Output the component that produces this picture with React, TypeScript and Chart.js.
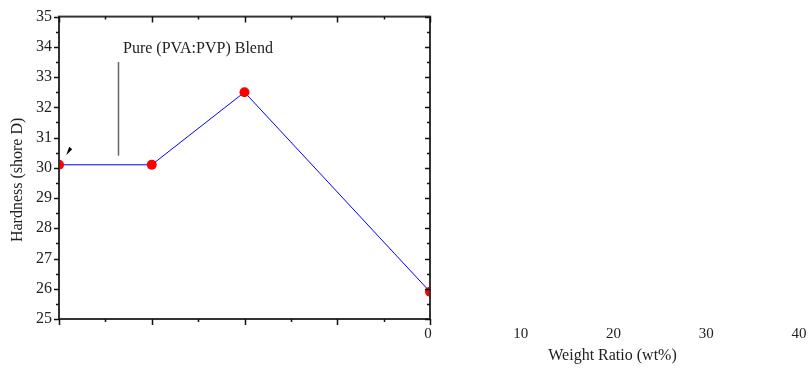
import React, { useEffect, useRef } from "react";
import { Chart, registerables } from "chart.js";

Chart.register(...registerables);

// Hardness of the blend films against filler weight ratio
const xValues = [-40, -30, -20, 0];
const hardness = [30.1, 30.1, 32.5, 25.9];
const xTickLabels = [0, 10, 20, 30, 40];
const yMin = 25;
const yMax = 35;
const xMin = -40;
const xMax = 0;

const yTitle = "Hardness (shore D)";
const xTitle = "Weight Ratio (wt%)";
const noteText = "Pure (PVA:PVP) Blend";

const SERIF = '"Liberation Serif", "Times New Roman", serif';
const INK = "#222";

const framePlugin = {
  id: "originFrame",
  afterDraw(chart: any) {
    const { ctx, chartArea: a, scales } = chart;
    const xs = scales.x;
    const ys = scales.y;
    ctx.save();

    // frame
    ctx.strokeStyle = "#333";
    ctx.lineWidth = 2;
    ctx.strokeRect(a.left, a.top, a.right - a.left, a.bottom - a.top);

    ctx.lineWidth = 1.5;
    ctx.strokeStyle = "#111";
    ctx.beginPath();
    // x ticks: outward on bottom, inward on top
    for (let v = xMin; v <= xMax; v += 5) {
      const px = Math.round(xs.getPixelForValue(v)) + 0.5;
      const major = v % 10 === 0;
      const len = major ? 6 : 3;
      ctx.moveTo(px, a.bottom);
      ctx.lineTo(px, a.bottom + len);
      ctx.moveTo(px, a.top);
      ctx.lineTo(px, a.top + len);
    }
    // y ticks: outward on left, inward on right
    for (let v = yMin; v <= yMax; v += 0.5) {
      const py = Math.round(ys.getPixelForValue(v)) + 0.5;
      const major = Number.isInteger(v);
      const len = major ? 5 : 3;
      ctx.moveTo(a.left, py);
      ctx.lineTo(a.left - len, py);
      ctx.moveTo(a.right, py);
      ctx.lineTo(a.right - len, py);
    }
    ctx.stroke();

    // x tick labels, continuing past the plot on the same scale
    ctx.fillStyle = INK;
    ctx.font = `15px ${SERIF}`;
    ctx.textAlign = "center";
    ctx.textBaseline = "top";
    xTickLabels.forEach((v) => {
      ctx.fillText(String(v), xs.getPixelForValue(v) - 2, a.bottom + 8);
    });

    // x title
    ctx.font = `16px ${SERIF}`;
    ctx.fillText(xTitle, xs.getPixelForValue(20) - 3, a.bottom + 29);

    // y title
    ctx.save();
    ctx.translate(18, ys.getPixelForValue(29.6));
    ctx.rotate(-Math.PI / 2);
    ctx.textAlign = "center";
    ctx.textBaseline = "middle";
    ctx.fillText(yTitle, 0, 0);
    ctx.restore();

    // annotation: label with a pointer line
    ctx.textAlign = "left";
    ctx.textBaseline = "middle";
    ctx.fillText(noteText, xs.getPixelForValue(-33.1), ys.getPixelForValue(33.95));
    ctx.strokeStyle = "#666";
    ctx.lineWidth = 1.5;
    ctx.beginPath();
    const lx = Math.round(xs.getPixelForValue(-33.6)) + 0.5;
    ctx.moveTo(lx, ys.getPixelForValue(33.5));
    ctx.lineTo(lx, ys.getPixelForValue(30.4));
    ctx.stroke();

    // small arrow tip near the first point
    const ax = xs.getPixelForValue(-38.9);
    const ay = ys.getPixelForValue(30.55);
    ctx.fillStyle = "#000";
    ctx.beginPath();
    ctx.moveTo(ax - 3, ay + 4);
    ctx.lineTo(ax, ay - 4.5);
    ctx.lineTo(ax + 3, ay - 2);
    ctx.closePath();
    ctx.fill();

    ctx.restore();
  },
};

export default function App() {
  const ref = useRef<HTMLCanvasElement>(null);

  useEffect(() => {
    if (!ref.current) return;
    const chart = new Chart(ref.current, {
      type: "line",
      data: {
        datasets: [
          {
            data: xValues.map((x, i) => ({ x, y: hardness[i] })),
            borderColor: "#0000ff",
            borderWidth: 1,
            pointRadius: 5,
            pointBackgroundColor: "#ff0000",
            pointBorderWidth: 0,
            pointBorderColor: "#ff0000",
            tension: 0,
          },
        ],
      },
      options: {
        animation: false,
        responsive: false,
        devicePixelRatio: 1,
        layout: { padding: { top: 14, right: 380, left: 0, bottom: 0 } },
        plugins: { legend: { display: false }, tooltip: { enabled: false } },
        scales: {
          x: {
            type: "linear",
            min: xMin,
            max: xMax,
            grid: { display: false, drawTicks: false },
            border: { display: false },
            ticks: { display: false },
            afterFit: (s: any) => {
              s.height = 55;
            },
          },
          y: {
            type: "linear",
            min: yMin,
            max: yMax,
            grid: { display: false, drawTicks: false },
            border: { display: false },
            ticks: {
              stepSize: 1,
              padding: 7,
              color: INK,
              font: { family: SERIF, size: 16 },
            },
            afterFit: (s: any) => {
              s.width = 59;
            },
          },
        },
      },
      plugins: [framePlugin],
    });
    return () => chart.destroy();
  }, []);

  return (
    <div style={{ position: "fixed", left: 0, top: 0, width: 810, height: 374, background: "#fff" }}>
      <canvas ref={ref} width={810} height={374} />
    </div>
  );
}
